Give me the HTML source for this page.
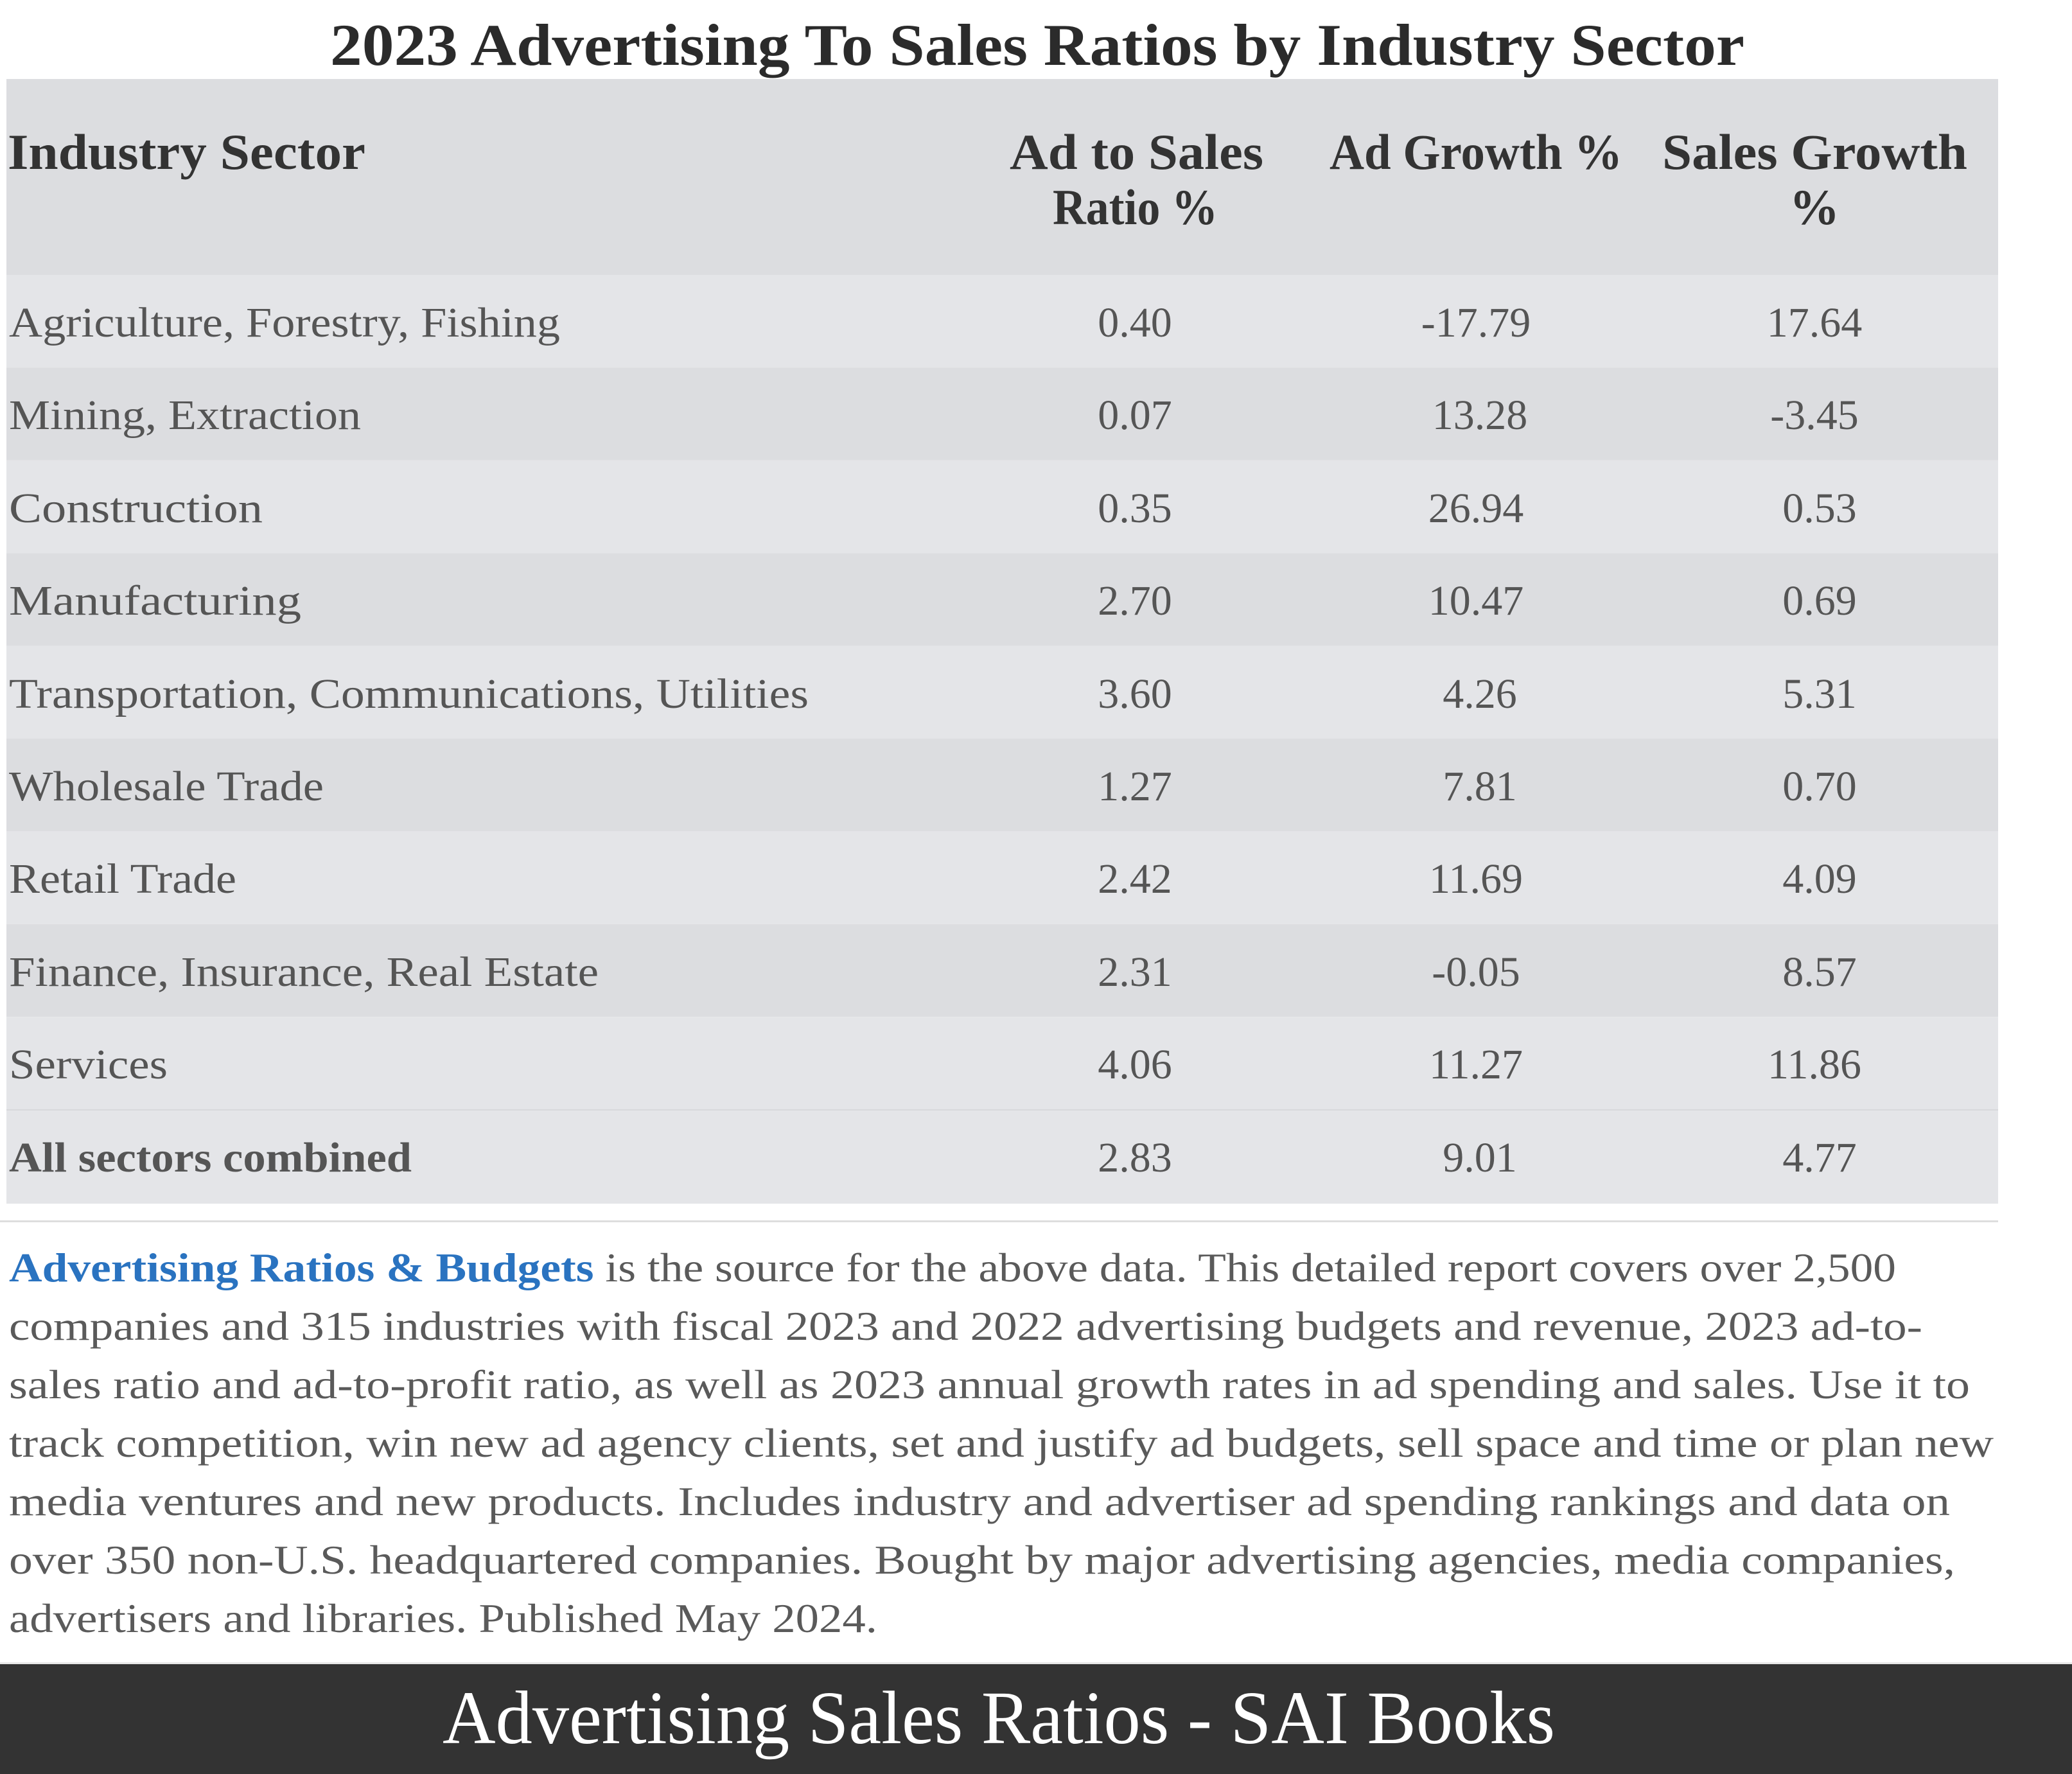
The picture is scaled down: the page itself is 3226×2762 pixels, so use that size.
<!DOCTYPE html>
<html><head><meta charset="utf-8"><style>
html,body{margin:0;padding:0;background:#fff;}
svg{display:block;}
</style></head><body>
<svg width="3226" height="2762" viewBox="0 0 3226 2762" xmlns="http://www.w3.org/2000/svg" font-family="'Liberation Serif', serif">
<rect width="3226" height="2762" fill="#fff"/>
<text x="514" y="101" font-size="92" font-weight="bold" fill="#2b2b2b" textLength="2202" lengthAdjust="spacingAndGlyphs">2023 Advertising To Sales Ratios by Industry Sector</text>
<rect x="10" y="123" width="3101" height="305" fill="#dcdde0"/>
<g font-size="78" font-weight="bold" fill="#333">
<text x="12" y="263" textLength="557" lengthAdjust="spacingAndGlyphs">Industry Sector</text>
<text x="1572" y="263" textLength="395" lengthAdjust="spacingAndGlyphs">Ad to Sales</text>
<text x="1639" y="349" textLength="257" lengthAdjust="spacingAndGlyphs">Ratio %</text>
<text x="2070" y="263" textLength="456" lengthAdjust="spacingAndGlyphs">Ad Growth %</text>
<text x="2588" y="263" textLength="475" lengthAdjust="spacingAndGlyphs">Sales Growth</text>
<text x="2825" y="349" text-anchor="middle">%</text>
</g>
<g>
<rect x="10" y="428" width="3101" height="144.4" fill="#e4e5e8"/>
<rect x="10" y="572.4" width="3101" height="144.4" fill="#dcdde0"/>
<rect x="10" y="716.8" width="3101" height="144.4" fill="#e4e5e8"/>
<rect x="10" y="861.2" width="3101" height="144.4" fill="#dcdde0"/>
<rect x="10" y="1005.6" width="3101" height="144.4" fill="#e4e5e8"/>
<rect x="10" y="1150" width="3101" height="144.4" fill="#dcdde0"/>
<rect x="10" y="1294.4" width="3101" height="144.4" fill="#e4e5e8"/>
<rect x="10" y="1438.8" width="3101" height="144.4" fill="#dcdde0"/>
<rect x="10" y="1583.2" width="3101" height="144.4" fill="#e4e5e8"/>
<rect x="10" y="1727.6" width="3101" height="146.4" fill="#e4e5e8"/>
<rect x="10" y="1727" width="3101" height="2" fill="#d8d9dc"/>
</g>
<g font-size="66" fill="#555">
<text x="14" y="524" textLength="858" lengthAdjust="spacingAndGlyphs">Agriculture, Forestry, Fishing</text>
<text x="14" y="668" textLength="548" lengthAdjust="spacingAndGlyphs">Mining, Extraction</text>
<text x="14" y="813" textLength="395" lengthAdjust="spacingAndGlyphs">Construction</text>
<text x="14" y="957" textLength="455" lengthAdjust="spacingAndGlyphs">Manufacturing</text>
<text x="14" y="1102" textLength="1245" lengthAdjust="spacingAndGlyphs">Transportation, Communications, Utilities</text>
<text x="14" y="1246" textLength="490" lengthAdjust="spacingAndGlyphs">Wholesale Trade</text>
<text x="14" y="1390" textLength="354" lengthAdjust="spacingAndGlyphs">Retail Trade</text>
<text x="14" y="1535" textLength="918" lengthAdjust="spacingAndGlyphs">Finance, Insurance, Real Estate</text>
<text x="14" y="1679" textLength="247" lengthAdjust="spacingAndGlyphs">Services</text>
<text x="14" y="1824" font-weight="bold" textLength="627" lengthAdjust="spacingAndGlyphs">All sectors combined</text>
</g>
<g font-size="66" fill="#555" text-anchor="middle">
<text x="1767" y="524">0.40</text><text x="2298" y="524">-17.79</text><text x="2825" y="524">17.64</text>
<text x="1767" y="668">0.07</text><text x="2304" y="668">13.28</text><text x="2825" y="668">-3.45</text>
<text x="1767" y="813">0.35</text><text x="2298" y="813">26.94</text><text x="2833" y="813">0.53</text>
<text x="1767" y="957">2.70</text><text x="2298" y="957">10.47</text><text x="2833" y="957">0.69</text>
<text x="1767" y="1102">3.60</text><text x="2304" y="1102">4.26</text><text x="2833" y="1102">5.31</text>
<text x="1767" y="1246">1.27</text><text x="2304" y="1246">7.81</text><text x="2833" y="1246">0.70</text>
<text x="1767" y="1390">2.42</text><text x="2298" y="1390">11.69</text><text x="2833" y="1390">4.09</text>
<text x="1767" y="1535">2.31</text><text x="2298" y="1535">-0.05</text><text x="2833" y="1535">8.57</text>
<text x="1767" y="1679">4.06</text><text x="2298" y="1679">11.27</text><text x="2825" y="1679">11.86</text>
<text x="1767" y="1824">2.83</text><text x="2304" y="1824">9.01</text><text x="2833" y="1824">4.77</text>
</g>
<rect x="0" y="1900" width="3111" height="3" fill="#dedede"/>
<g font-size="64" fill="#5a5a5a">
<text x="14" y="1995" textLength="2938" lengthAdjust="spacingAndGlyphs"><tspan fill="#2a73c0" font-weight="bold">Advertising Ratios &amp; Budgets</tspan> is the source for the above data. This detailed report covers over 2,500</text>
<text x="14" y="2086" textLength="2979" lengthAdjust="spacingAndGlyphs">companies and 315 industries with fiscal 2023 and 2022 advertising budgets and revenue, 2023 ad-to-</text>
<text x="14" y="2177" textLength="3053" lengthAdjust="spacingAndGlyphs">sales ratio and ad-to-profit ratio, as well as 2023  annual growth rates in ad spending and sales. Use it to</text>
<text x="14" y="2268" textLength="3090" lengthAdjust="spacingAndGlyphs">track competition, win new ad agency clients, set and justify ad budgets, sell space and time or plan new</text>
<text x="14" y="2359" textLength="3022" lengthAdjust="spacingAndGlyphs">media ventures and new products. Includes industry and advertiser ad spending rankings and data on</text>
<text x="14" y="2450" textLength="3030" lengthAdjust="spacingAndGlyphs">over 350 non-U.S. headquartered companies.  Bought by major advertising agencies, media companies,</text>
<text x="14" y="2541" textLength="1352" lengthAdjust="spacingAndGlyphs">advertisers and libraries. Published May 2024.</text>
</g>
<rect x="0" y="2588" width="3226" height="4" fill="#e8e8e8"/>
<rect x="0" y="2591" width="3226" height="171" fill="#333"/>
<text x="689" y="2714" font-size="118" fill="#fff" textLength="1732" lengthAdjust="spacingAndGlyphs">Advertising Sales Ratios - SAI Books</text>
</svg>
</body></html>
